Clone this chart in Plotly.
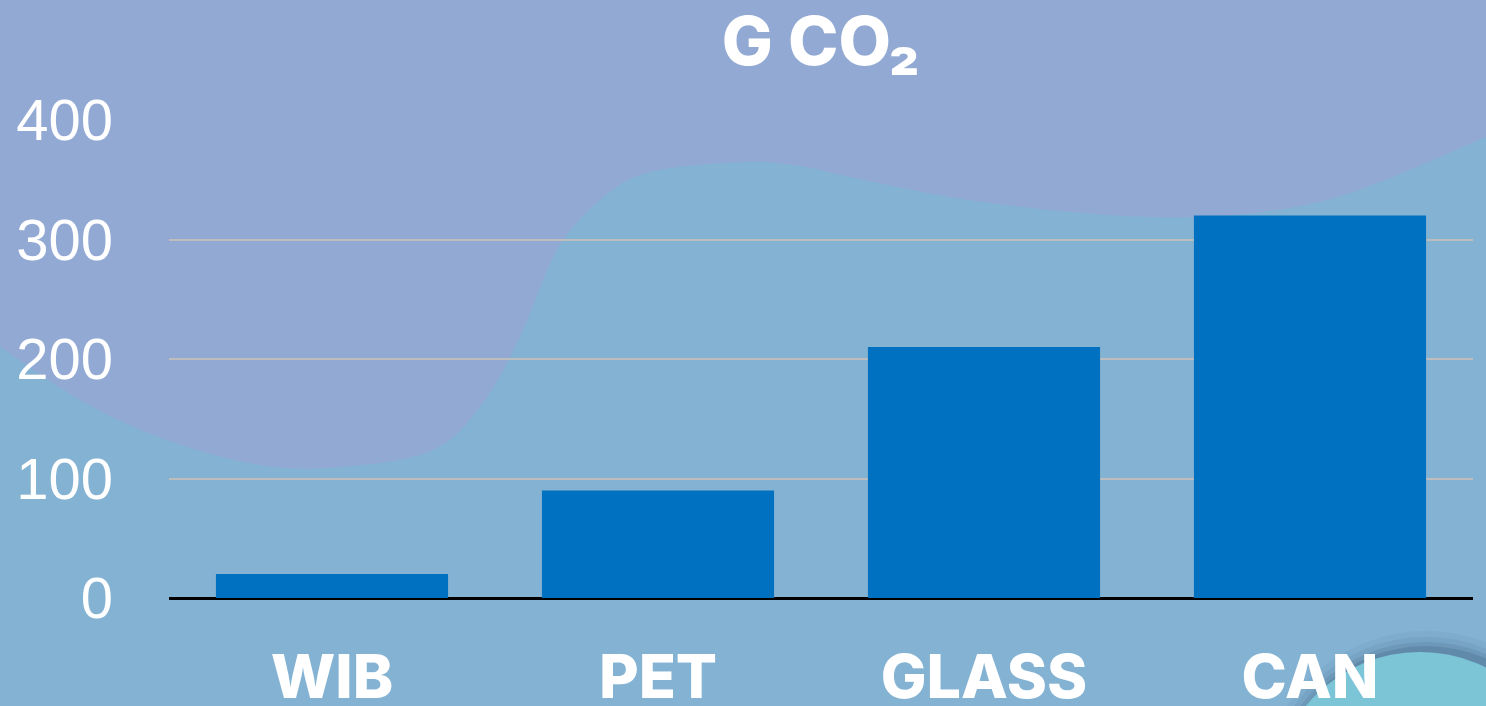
import plotly.graph_objects as go

categories = ["WIB", "PET", "GLASS", "CAN"]
values = [20, 90, 210, 320]
y_ticks = [0, 100, 200, 300, 400]

W, H = 1486, 706
ML, MR, MT, MB = 169, 13, 120, 108
PW, PH = W - ML - MR, H - MT - MB


def px(x, y):
    return (x - ML) / PW, (H - MB - y) / PH


def catmull(pts, n=12):
    out = []
    p = [pts[0]] + pts + [pts[-1]]
    for i in range(1, len(p) - 2):
        p0, p1, p2, p3 = p[i - 1], p[i], p[i + 1], p[i + 2]
        for k in range(n):
            t = k / n
            t2, t3 = t * t, t * t * t
            x = 0.5 * ((2 * p1[0]) + (-p0[0] + p2[0]) * t + (2 * p0[0] - 5 * p1[0] + 4 * p2[0] - p3[0]) * t2 + (-p0[0] + 3 * p1[0] - 3 * p2[0] + p3[0]) * t3)
            y = 0.5 * ((2 * p1[1]) + (-p0[1] + p2[1]) * t + (2 * p0[1] - 5 * p1[1] + 4 * p2[1] - p3[1]) * t2 + (-p0[1] + 3 * p1[1] - 3 * p2[1] + p3[1]) * t3)
            out.append((x, y))
    out.append(pts[-1])
    return out


wave = [(-5, 343), (80, 400), (167, 440), (260, 465), (340, 467), (433, 450), (485, 400),
        (523, 330), (557, 250), (600, 200), (650, 172), (743, 162), (800, 166),
        (850, 177), (950, 197), (1050, 210), (1150, 217), (1233, 215), (1310, 204),
        (1367, 187), (1433, 160), (1495, 133)]
smooth = catmull(wave)
pts = smooth + [(1495, 720), (-5, 720)]
path = "M " + " L ".join(f"{px(x, y)[0]:.5f},{px(x, y)[1]:.5f}" for x, y in pts) + " Z"

shapes = [
    dict(type="path", path=path, xref="paper", yref="paper", layer="below",
         fillcolor="#83b2d2", line=dict(width=0)),
]


def circ(cx, cy, r, color):
    x0, y0 = px(cx - r, cy - r)
    x1, y1 = px(cx + r, cy + r)
    return dict(type="circle", xref="paper", yref="paper", layer="below",
                x0=x0, x1=x1, y0=y1, y1=y0, fillcolor=color, line=dict(width=0))


for i, (r, op) in enumerate([(166, 0.05), (160, 0.08), (155, 0.12), (151, 0.16)]):
    shapes.append(circ(1426, 797, r, f"rgba(40,70,100,{op})"))
shapes.append(circ(1420, 800, 148, "#7cc5d6"))

fig = go.Figure()
fig.add_trace(go.Bar(x=categories, y=values, marker=dict(color="#0070C0", line=dict(width=0))))

fig.update_layout(
    width=W, height=H,
    margin=dict(l=ML, r=MR, t=MT, b=MB, pad=0, autoexpand=False),
    paper_bgcolor="#92a9d4",
    plot_bgcolor="rgba(0,0,0,0)",
    bargap=0.288,
    showlegend=False,
    shapes=shapes,
    title=dict(text="G CO₂", x=0.5, xref="paper", xanchor="center",
               y=0.942, yref="container", yanchor="middle",
               font=dict(family="Inter", size=68, color="white", weight=800)),
    xaxis=dict(showgrid=False, showline=False, zeroline=False, automargin=False,
               ticks="", ticklabelstandoff=38,
               tickfont=dict(family="Inter", size=61, color="white", weight=800)),
    yaxis=dict(range=[0, 400], tickvals=y_ticks, showgrid=True, gridcolor="#bdbdbd",
               gridwidth=2, zeroline=True, zerolinecolor="black", zerolinewidth=2.5,
               showline=False, ticks="", ticklabelstandoff=55, automargin=False,
               tickfont=dict(family="Liberation Sans", size=58, color="white")),
)

fig.write_html("out.html")
